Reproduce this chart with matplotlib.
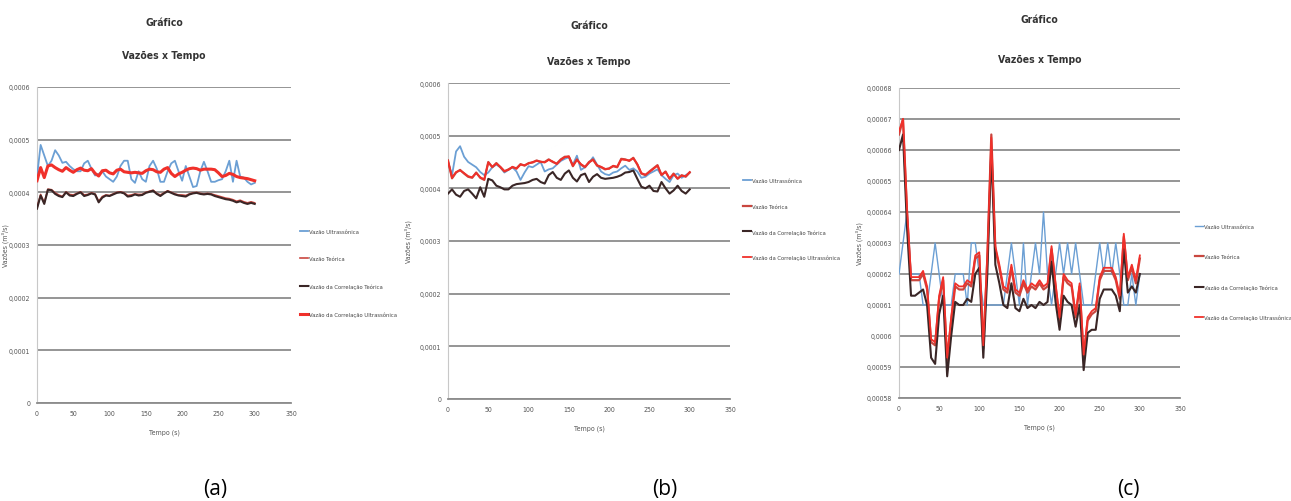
import matplotlib
matplotlib.use("Agg")
import matplotlib.pyplot as plt
import numpy as np
from matplotlib import font_manager
from matplotlib.ticker import FixedLocator, FuncFormatter

# time axis (s), one reading every 5 s
TEMPO = list(range(0, 301, 5))

# flows in units of 1e-4 m3/s
# (a)
ULTRA_A = [4.3, 4.9, 4.7, 4.5, 4.6, 4.8, 4.7, 4.56, 4.58, 4.5,
           4.44, 4.4, 4.4, 4.55, 4.6, 4.45, 4.32, 4.35, 4.4, 4.3,
           4.25, 4.2, 4.3, 4.5, 4.6, 4.6, 4.25, 4.18, 4.4, 4.25,
           4.2, 4.5, 4.6, 4.45, 4.2, 4.2, 4.4, 4.55, 4.6, 4.4,
           4.22, 4.5, 4.3, 4.1, 4.12, 4.4, 4.58, 4.4, 4.2, 4.2,
           4.23, 4.25, 4.4, 4.6, 4.2, 4.6, 4.3, 4.28, 4.2, 4.15, 4.18]
TEO_A = [3.71, 3.96, 3.8, 4.06, 4.05, 3.99, 3.95, 3.92, 4.01, 3.96,
         3.95, 3.98, 4.01, 3.95, 3.96, 3.99, 3.97, 3.83, 3.92, 3.95,
         3.94, 3.97, 4.0, 4.01, 3.99, 3.94, 3.95, 3.97, 3.96, 3.96,
         4.0, 4.02, 4.04, 3.98, 3.95, 3.99, 4.03, 4.0, 3.97, 3.95,
         3.95, 3.94, 3.97, 3.99, 4.0, 3.98, 3.97, 3.98, 3.97, 3.95,
         3.93, 3.91, 3.89, 3.88, 3.86, 3.83, 3.85, 3.82, 3.8, 3.82, 3.8]
CORR_TEO_A = [3.69, 3.94, 3.78, 4.05, 4.04, 3.97, 3.93, 3.91, 4.0, 3.94,
              3.93, 3.97, 4.0, 3.93, 3.95, 3.98, 3.96, 3.81, 3.9, 3.94,
              3.93, 3.96, 3.99, 4.0, 3.98, 3.92, 3.93, 3.96, 3.94, 3.95,
              3.99, 4.01, 4.03, 3.97, 3.93, 3.98, 4.02, 3.99, 3.96, 3.94,
              3.93, 3.92, 3.96, 3.98, 3.99, 3.97, 3.96, 3.97, 3.96, 3.93,
              3.91, 3.89, 3.87, 3.86, 3.84, 3.81, 3.83, 3.8, 3.78, 3.8, 3.78]
CORR_ULTRA_A = [4.22, 4.47, 4.28, 4.5, 4.52, 4.47, 4.43, 4.4, 4.47, 4.42,
                4.38, 4.43, 4.46, 4.42, 4.41, 4.45, 4.36, 4.31, 4.41, 4.42,
                4.37, 4.35, 4.42, 4.44, 4.39, 4.38, 4.37, 4.38, 4.37, 4.36,
                4.41, 4.44, 4.43, 4.39, 4.38, 4.44, 4.47, 4.36, 4.3, 4.35,
                4.38, 4.42, 4.45, 4.46, 4.45, 4.42, 4.44, 4.44, 4.44, 4.43,
                4.37, 4.3, 4.32, 4.36, 4.34, 4.3, 4.28, 4.27, 4.26, 4.24, 4.22]

# (b)
ULTRA_B = [4.5, 4.25, 4.7, 4.8, 4.6, 4.5, 4.45, 4.4, 4.31, 4.25,
           4.3, 4.4, 4.45, 4.4, 4.3, 4.35, 4.4, 4.32, 4.16, 4.3,
           4.42, 4.4, 4.45, 4.5, 4.32, 4.36, 4.38, 4.45, 4.52, 4.56,
           4.59, 4.45, 4.62, 4.35, 4.4, 4.48, 4.59, 4.45, 4.32, 4.27,
           4.25, 4.3, 4.32, 4.38, 4.43, 4.35, 4.38, 4.32, 4.2, 4.22,
           4.28, 4.32, 4.36, 4.25, 4.18, 4.12, 4.25, 4.28, 4.2, 4.25, 4.3]
TEO_B = [4.53, 4.19, 4.3, 4.35, 4.28, 4.22, 4.2, 4.3, 4.2, 4.16,
         4.5, 4.4, 4.48, 4.4, 4.32, 4.36, 4.4, 4.38, 4.46, 4.43,
         4.48, 4.49, 4.53, 4.5, 4.5, 4.55, 4.5, 4.47, 4.55, 4.6,
         4.6, 4.42, 4.55, 4.45, 4.4, 4.5, 4.55, 4.43, 4.4, 4.36,
         4.38, 4.42, 4.4, 4.56, 4.55, 4.52, 4.58, 4.45, 4.28, 4.25,
         4.32, 4.38, 4.44, 4.25, 4.32, 4.18, 4.28, 4.18, 4.25, 4.22, 4.3]
CORR_TEO_B = [3.9, 3.98, 3.88, 3.84, 3.95, 3.98, 3.9, 3.81, 4.02, 3.84,
              4.18, 4.15, 4.05, 4.02, 3.98, 3.98, 4.05, 4.08, 4.09, 4.1,
              4.12, 4.16, 4.18, 4.12, 4.09, 4.25, 4.31, 4.2, 4.16, 4.28,
              4.34, 4.2, 4.13, 4.25, 4.28, 4.12, 4.22, 4.27, 4.2, 4.18,
              4.19, 4.2, 4.22, 4.25, 4.3, 4.31, 4.34, 4.18, 4.03, 4.0,
              4.05, 3.95, 3.94, 4.12, 4.0, 3.9, 3.96, 4.05, 3.95, 3.9, 3.98]
CORR_ULTRA_B = [4.52, 4.2, 4.31, 4.34, 4.29, 4.23, 4.21, 4.29, 4.21, 4.17,
                4.49, 4.41, 4.47, 4.41, 4.33, 4.35, 4.41, 4.37, 4.45, 4.44,
                4.47, 4.5, 4.52, 4.51, 4.49, 4.54, 4.51, 4.46, 4.54, 4.59,
                4.61, 4.43, 4.54, 4.46, 4.41, 4.49, 4.54, 4.44, 4.41, 4.37,
                4.37, 4.43, 4.41, 4.55, 4.54, 4.53, 4.57, 4.46, 4.29, 4.26,
                4.31, 4.37, 4.43, 4.26, 4.31, 4.19, 4.27, 4.19, 4.24, 4.23, 4.31]

# (c)
ULTRA_C = [6.2, 6.3, 6.4, 6.2, 6.2, 6.2, 6.1, 6.1, 6.2, 6.3,
           6.2, 6.1, 6.1, 6.1, 6.2, 6.2, 6.2, 6.1, 6.3, 6.3,
           6.2, 6.1, 6.1, 6.1, 6.1, 6.1, 6.1, 6.2, 6.3, 6.2,
           6.1, 6.3, 6.1, 6.2, 6.3, 6.2, 6.4, 6.2, 6.1, 6.2,
           6.3, 6.2, 6.3, 6.2, 6.3, 6.2, 6.1, 6.1, 6.1, 6.2,
           6.3, 6.2, 6.3, 6.2, 6.3, 6.2, 6.1, 6.1, 6.2, 6.1, 6.2]
TEO_C = [6.65, 6.7, 6.4, 6.18, 6.18, 6.18, 6.2, 6.15, 5.98, 5.97,
         6.12, 6.18, 5.92, 6.05, 6.16, 6.15, 6.15, 6.17, 6.16, 6.25,
         6.26, 5.96, 6.25, 6.65, 6.28, 6.22, 6.15, 6.14, 6.22, 6.14,
         6.13, 6.17, 6.14, 6.16, 6.15, 6.17, 6.15, 6.16, 6.28, 6.16,
         6.05, 6.19, 6.17, 6.16, 6.06, 6.16, 5.93, 6.05, 6.07, 6.08,
         6.18, 6.21, 6.21, 6.21, 6.18, 6.12, 6.32, 6.18, 6.22, 6.17, 6.25]
CORR_TEO_C = [6.6, 6.65, 6.35, 6.13, 6.13, 6.14, 6.15, 6.1, 5.93, 5.91,
              6.07, 6.13, 5.87, 6.0, 6.11, 6.1, 6.1, 6.12, 6.11, 6.2,
              6.22, 5.93, 6.2, 6.6, 6.23, 6.17, 6.1, 6.09, 6.17, 6.09,
              6.08, 6.12, 6.09, 6.1, 6.09, 6.11, 6.1, 6.11, 6.24, 6.11,
              6.02, 6.13, 6.11, 6.1, 6.03, 6.1, 5.89, 6.01, 6.02, 6.02,
              6.12, 6.15, 6.15, 6.15, 6.13, 6.08, 6.28, 6.14, 6.16, 6.14, 6.2]
CORR_ULTRA_C = [6.66, 6.7, 6.41, 6.19, 6.19, 6.19, 6.21, 6.16, 5.99, 5.98,
                6.13, 6.19, 5.93, 6.06, 6.17, 6.16, 6.16, 6.18, 6.17, 6.26,
                6.27, 5.97, 6.26, 6.64, 6.29, 6.23, 6.16, 6.15, 6.23, 6.15,
                6.14, 6.18, 6.15, 6.17, 6.16, 6.18, 6.16, 6.17, 6.29, 6.17,
                6.06, 6.2, 6.18, 6.17, 6.07, 6.17, 5.94, 6.06, 6.08, 6.09,
                6.19, 6.22, 6.22, 6.22, 6.19, 6.13, 6.33, 6.19, 6.23, 6.18, 6.26]

LABELS = ["Vazão Ultrassônica", "Vazão Teórica",
          "Vazão da Correlação Teórica", "Vazão da Correlação Ultrassônica"]
X_TICKS = [0, 50, 100, 150, 200, 250, 300, 350]
Y_TICKS_AB = [0, 0.0001, 0.0002, 0.0003, 0.0004, 0.0005, 0.0006]
Y_TICKS_C = [0.00058, 0.00059, 0.0006, 0.00061, 0.00062, 0.00063,
             0.00064, 0.00065, 0.00066, 0.00067, 0.00068]

# pick a narrow face if the system has one
_fonts = font_manager.fontManager.ttflist
_names = {f.name for f in _fonts}
if "Liberation Sans Narrow" in _names:
    NARROW = dict(family="Liberation Sans Narrow")
elif any(f.name == "DejaVu Sans" and "ondensed" in str(f.stretch) for f in _fonts):
    NARROW = dict(family="DejaVu Sans", stretch="condensed")
else:
    NARROW = dict(family="Liberation Sans")
BIG = "Open Sans" if "Open Sans" in _names else "DejaVu Sans"

BLUE = "#6b9fd4"
TEO = "#c9473f"
DARK = "#3a2626"
RED = "#f0302a"
GRID = "#8c8c8c"


def fmt_br(v, pos=None):
    if abs(v) < 1e-12:
        return "0"
    return f"{v:.5f}".rstrip("0").replace(".", ",")


def panel(rect, ultra, teo, corr_teo, corr_ultra, yticks, widths, title_y, leg_xy, leg_space, ylab_x):
    ax = fig.add_axes(rect)
    t = np.array(TEMPO)
    ax.plot(t, np.array(ultra) * 1e-4, color=BLUE, lw=widths[0], label=LABELS[0], zorder=3)
    ax.plot(t, np.array(teo) * 1e-4, color=TEO, lw=widths[1], label=LABELS[1], zorder=3)
    ax.plot(t, np.array(corr_teo) * 1e-4, color=DARK, lw=widths[2], label=LABELS[2], zorder=3)
    ax.plot(t, np.array(corr_ultra) * 1e-4, color=RED, lw=widths[3], label=LABELS[3], zorder=3)

    ax.set_xlim(0, 350)
    ax.set_ylim(yticks[0], yticks[-1])
    ax.xaxis.set_major_locator(FixedLocator(X_TICKS))
    ax.yaxis.set_major_locator(FixedLocator(yticks))
    ax.yaxis.set_major_formatter(FuncFormatter(fmt_br))
    ax.grid(axis="y", color=GRID, lw=1.3, zorder=1)
    for s in ["top", "right"]:
        ax.spines[s].set_visible(False)
    ax.spines["left"].set_color("#c8c8c8")
    ax.spines["bottom"].set_color(GRID)
    ax.spines["bottom"].set_linewidth(1.3)
    ax.tick_params(length=0, labelsize=5, labelcolor="#555555", pad=5)
    for lab in ax.get_xticklabels() + ax.get_yticklabels():
        lab.set(**NARROW)
    ax.set_xlabel("Tempo (s)", fontsize=5, color="#555555", labelpad=9, **NARROW)
    ax.set_ylabel("Vazões (m³/s)", fontsize=5, color="#555555", **NARROW)
    ax.yaxis.set_label_coords((ylab_x - rect[0] * W) / (rect[2] * W), 0.5)

    cx = rect[0] + rect[2] * 0.5
    for yy, txt in zip(title_y, ["Gráfico", "Vazões x Tempo"]):
        fig.text(cx, yy, txt, ha="center", va="center", fontsize=7.5,
                 fontweight="bold", color="#333333", **NARROW)

    leg = ax.legend(loc="upper left", bbox_to_anchor=leg_xy, bbox_transform=fig.transFigure,
                    frameon=False, handlelength=1.3, handletextpad=0.3,
                    labelspacing=leg_space, borderpad=0, borderaxespad=0,
                    prop=dict(size=4.2, **NARROW))
    for txt in leg.get_texts():
        txt.set_color("#444444")
    return ax


W, H = 1291, 502
fig = plt.figure(figsize=(W / 100, H / 100), dpi=100)

panel([37 / W, 1 - 404 / H, 254 / W, 316 / H], ULTRA_A, TEO_A, CORR_TEO_A, CORR_ULTRA_A,
      Y_TICKS_AB, [1.3, 1.2, 1.5, 2.2], (1 - 23 / H, 1 - 56 / H), (300 / W, 1 - 230 / H), 3.8, 9)
panel([448 / W, 1 - 400 / H, 282 / W, 316 / H], ULTRA_B, TEO_B, CORR_TEO_B, CORR_ULTRA_B,
      Y_TICKS_AB, [1.3, 1.6, 1.5, 1.3], (1 - 26 / H, 1 - 62 / H), (743 / W, 1 - 179 / H), 3.5, 412)
panel([899 / W, 1 - 399 / H, 281 / W, 310 / H], ULTRA_C, TEO_C, CORR_TEO_C, CORR_ULTRA_C,
      Y_TICKS_C, [1.0, 1.6, 1.5, 1.3], (1 - 20 / H, 1 - 60 / H), (1195 / W, 1 - 225 / H), 4.3, 863)

for x, lab in [(215, "(a)"), (665, "(b)"), (1128, "(c)")]:
    fig.text(x / W, 1 - 490 / H, lab, ha="center", va="center", fontsize=15, family=BIG)

fig.savefig("out.png", dpi=100)
